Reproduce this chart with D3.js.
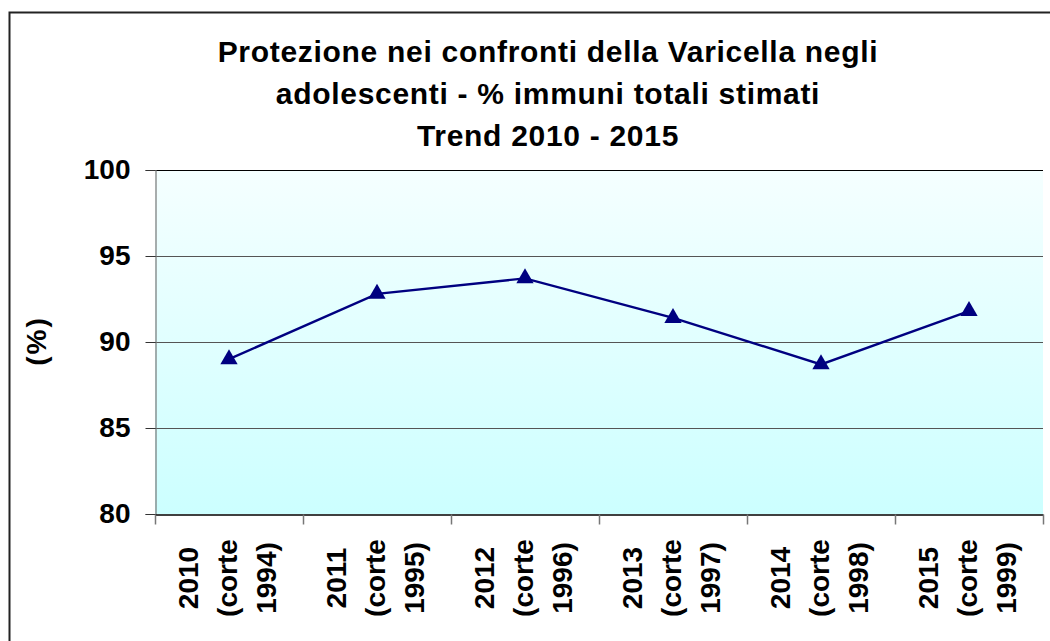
<!DOCTYPE html>
<html>
<head>
<meta charset="utf-8">
<script src="https://cdn.jsdelivr.net/npm/d3@7"></script>
<style>
  html, body { margin: 0; padding: 0; background: #ffffff; }
  svg { display: block; font-family: "Liberation Sans", Arial, sans-serif; }
</style>
</head>
<body>
<svg id="chart" width="1050" height="641"></svg>
<script>
// data
const years = ["2010", "2011", "2012", "2013", "2014", "2015"];
const cohorts = ["1994", "1995", "1996", "1997", "1998", "1999"];
const immuni = [89.0, 92.8, 93.7, 91.4, 88.7, 91.8];
const yTicks = [80, 85, 90, 95, 100];
const titleLines = [
    "Protezione nei confronti della Varicella negli",
    "adolescenti - % immuni totali stimati",
    "Trend 2010 - 2015"
];
const yLabel = "(%)";

const categories = years.map((y, i) => `${y} (corte ${cohorts[i]})`);
const points = categories.map((c, i) => ({ cat: c, value: immuni[i] }));

const width = 1050, height = 641;
const margin = { top: 170, right: 7, bottom: 127, left: 155 };

const svg = d3.select("#chart");

// outer frame, runs off the right and bottom edges
svg.append("rect")
    .attr("x", 9.5)
    .attr("y", 12.5)
    .attr("width", 1080)
    .attr("height", 680)
    .attr("fill", "none")
    .attr("stroke", "#222")
    .attr("stroke-width", 2);

const x = d3.scaleBand()
    .domain(categories)
    .range([margin.left, width - margin.right]);

const xEdge = d3.scaleLinear()
    .domain([0, categories.length])
    .range([margin.left, width - margin.right]);

const y = d3.scaleLinear()
    .domain([80, 100])
    .range([height - margin.bottom, margin.top]);

// plot background gradient
const defs = svg.append("defs");
const grad = defs.append("linearGradient")
    .attr("id", "bg")
    .attr("x1", 0).attr("y1", 0)
    .attr("x2", 0).attr("y2", 1);
grad.append("stop").attr("offset", "0%").attr("stop-color", "#f5ffff");
grad.append("stop").attr("offset", "100%").attr("stop-color", "#ccffff");

svg.append("rect")
    .attr("x", margin.left)
    .attr("y", y(100))
    .attr("width", x.range()[1] - margin.left)
    .attr("height", y(80) - y(100))
    .attr("fill", "url(#bg)");

// gridlines
svg.append("g")
    .selectAll("line")
    .data(yTicks.filter(d => d > 80))
    .join("line")
    .attr("x1", margin.left)
    .attr("x2", x.range()[1])
    .attr("y1", d => Math.round(y(d)) + 0.5)
    .attr("y2", d => Math.round(y(d)) + 0.5)
    .attr("stroke", d => d === 100 ? "#000" : "#555")
    .attr("stroke-width", 1.2);

// y axis
const yAxis = svg.append("g")
    .attr("transform", `translate(${margin.left + 0.5},0)`)
    .call(d3.axisLeft(y).tickValues(yTicks).tickSize(10).tickPadding(15).tickFormat(d3.format("d")));
yAxis.select(".domain").attr("stroke", "#777").attr("stroke-width", 1.2);
yAxis.selectAll(".tick line").attr("stroke", "#333");
yAxis.selectAll(".tick text")
    .attr("fill", "#000")
    .attr("font-size", 28)
    .attr("font-weight", "bold")
    .attr("font-family", "'Liberation Sans', Arial, sans-serif");

// x axis: ticks on category edges
const xAxis = svg.append("g")
    .attr("transform", `translate(0,${Math.round(y(80)) + 0.5})`)
    .call(d3.axisBottom(xEdge).tickValues(d3.range(categories.length + 1)).tickSize(10).tickSizeOuter(0).tickFormat(""));
xAxis.select(".domain").attr("stroke", "#000").attr("stroke-width", 1.5);
xAxis.selectAll(".tick line").attr("stroke", "#777").attr("stroke-width", 1.5);

// category labels, rotated, three lines each
const labelLines = categories.map((c, i) => [years[i], "(corte", cohorts[i] + ")"]);
const lab = svg.append("g")
    .selectAll("g")
    .data(categories)
    .join("g")
    .attr("transform", d => `translate(${x(d) + x.bandwidth() / 2},578) rotate(-90)`);
lab.selectAll("text")
    .data((d, i) => labelLines[i])
    .join("text")
    .attr("x", 0)
    .attr("y", (d, j) => -31 + j * 39)
    .attr("text-anchor", "middle")
    .attr("font-size", 28)
    .attr("font-weight", "bold")
    .attr("fill", "#000")
    .text(d => d);

// y label
svg.append("text")
    .attr("transform", `translate(46,341) rotate(-90)`)
    .attr("text-anchor", "middle")
    .attr("font-size", 28)
    .attr("font-weight", "bold")
    .attr("letter-spacing", 2)
    .attr("fill", "#000")
    .text(yLabel);

// title
svg.append("g")
    .selectAll("text")
    .data(titleLines)
    .join("text")
    .attr("x", 548)
    .attr("y", (d, i) => 62 + i * 42)
    .attr("text-anchor", "middle")
    .attr("font-size", 30)
    .attr("font-weight", "bold")
    .attr("letter-spacing", 0.7)
    .attr("fill", "#000")
    .text(d => d);

// series line and markers
const line = d3.line()
    .x(d => x(d.cat) + x.bandwidth() / 2)
    .y(d => y(d.value));

svg.append("path")
    .datum(points)
    .attr("d", line)
    .attr("fill", "none")
    .attr("stroke", "#000080")
    .attr("stroke-width", 2.4);

svg.append("g")
    .selectAll("path")
    .data(points)
    .join("path")
    .attr("transform", d => `translate(${x(d.cat) + x.bandwidth() / 2},${y(d.value)})`)
    .attr("d", d3.symbol().type(d3.symbolTriangle).size(130))
    .attr("fill", "#000080");
</script>
</body>
</html>
